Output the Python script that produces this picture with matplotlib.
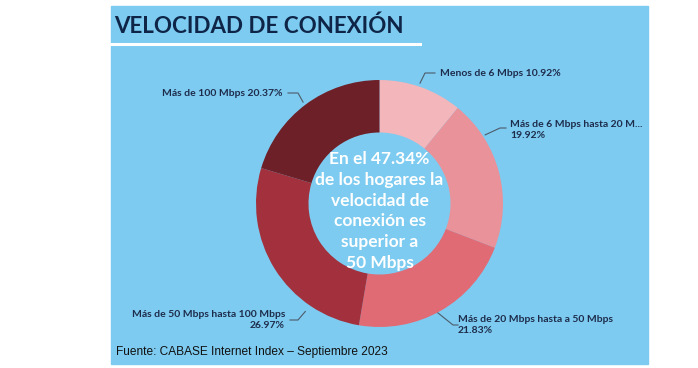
import numpy as np
import matplotlib
matplotlib.use("Agg")
import matplotlib.pyplot as plt
from matplotlib.patches import Rectangle

# datos
categorias = ["Menos de 6 Mbps", "Más de 6 Mbps hasta 20 M...", "Más de 20 Mbps hasta a 50 Mbps",
              "Más de 50 Mbps hasta 100 Mbps", "Más de 100 Mbps"]
porcentajes = [10.92, 19.92, 21.83, 26.97, 20.37]
colores = ["#F2B6BB", "#E9929A", "#E06B75", "#A3313D", "#6E2028"]
titulo = "VELOCIDAD DE CONEXIÓN"
texto_centro = "En el 47.34%\nde los hogares la\nvelocidad de\nconexión es\nsuperior a\n50 Mbps"
fuente = "Fuente: CABASE Internet Index – Septiembre 2023"

W, H = 698, 368
BG = "#7DCBF0"
NAVY = "#0E2547"
LBL = "#1E2C4C"
FAM = "Lato"


def py(y):
    return H - y


fig = plt.figure(figsize=(W / 100, H / 100), dpi=100)
ax = fig.add_axes([0, 0, 1, 1])

ax.add_patch(Rectangle((111, py(364)), 537, 358, color=BG, zorder=0))
ax.plot([111, 420], [py(44), py(44)], color="white", lw=2.2, zorder=1)
ax.text(114, py(26), titulo, fontsize=16.1, fontweight="bold", family=FAM,
        color=NAVY, va="center", ha="left")

cx, cy, R = 379.5, py(203.5), 123.5
wedges, _ = ax.pie(porcentajes, colors=colores, startangle=90, counterclock=False,
                   radius=R, center=(cx, cy),
                   wedgeprops=dict(width=R - 71, linewidth=0))

ax.text(cx, py(211), texto_centro, fontsize=12.5, fontweight="bold", family=FAM,
        color="white", ha="center", va="center", linespacing=1.37)

# etiquetas: angulo del conector, codo, punto final, texto
layout = [
    (71.4, 127, (425, 73), (435, 73), (440, 73), "left"),
    (33.0, 126, (500, 128), (506, 128), (510, 130), "left"),
    (-61.9, 124, (453, 325), (458, 325), (458, 325), "left"),
    (-124.5, 131, (298, 320), (290, 320), (285, 320), "right"),
    (127.0, 127, (298, 93), (288, 93), (283, 93), "right"),
]
for cat, val, (ang, r, elbow, end, tpos, ha) in zip(categorias, porcentajes, layout):
    x0 = cx + r * np.cos(np.radians(ang))
    y0 = cy + r * np.sin(np.radians(ang))
    ax.plot([x0, elbow[0], end[0]], [y0, py(elbow[1]), py(end[1])],
            color="#4D5B6B", lw=0.8, zorder=3)
    if len(cat) + 7 > 24:
        s = f"{cat}\n{val:.2f}%"
    else:
        s = f"{cat} {val:.2f}%"
    ax.text(tpos[0], py(tpos[1]), s, fontsize=7.5, fontweight="bold", family=FAM,
            color=LBL, ha=ha, va="center", multialignment=ha, linespacing=1.35)

ax.text(116, py(352), fuente, fontsize=8.6, family="Liberation Sans", color="#111111",
        ha="left", va="center")

ax.set_xlim(0, W)
ax.set_ylim(0, H)
ax.set_aspect("auto")
ax.axis("off")
fig.savefig("out.png", dpi=100, facecolor="white")
